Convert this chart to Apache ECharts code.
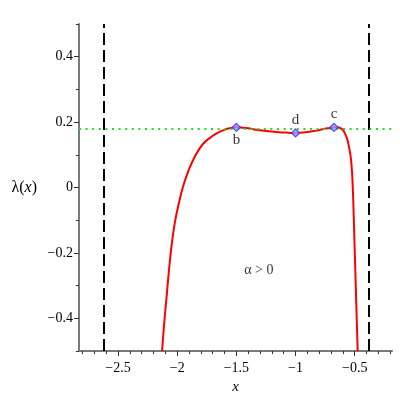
<!DOCTYPE html>
<html><head><meta charset="utf-8">
<script src="https://cdn.jsdelivr.net/npm/echarts@6/dist/echarts.min.js"></script>
<style>html,body{margin:0;padding:0;background:#fff}#c{width:400px;height:400px}</style>
</head><body><div id="c"></div>
<script>
const curveX = [-2.128,-2.111,-2.091,-2.071,-2.048,-2.020,-1.986,-1.950,-1.908,-1.851,-1.781,-1.696,-1.640,-1.590,-1.545,-1.500,-1.420,-1.330,-1.245,-1.160,-1.080,-1.000,-0.920,-0.860,-0.822,-0.760,-0.710,-0.675,-0.645,-0.624,-0.600,-0.582,-0.566,-0.554,-0.544,-0.534,-0.526,-0.520,-0.512,-0.505,-0.498,-0.490,-0.483,-0.475];
const curveY = [-0.500,-0.419,-0.339,-0.258,-0.178,-0.107,-0.047,0.004,0.049,0.095,0.134,0.159,0.171,0.178,0.182,0.184,0.182,0.177,0.173,0.170,0.168,0.167,0.169,0.172,0.174,0.179,0.182,0.184,0.184,0.182,0.176,0.165,0.151,0.134,0.116,0.094,0.064,0.030,-0.045,-0.130,-0.217,-0.315,-0.402,-0.500];
const pointNames = ['b','d','c'];
const pointX = [-1.5,-1.0,-0.675];
const pointY = [0.184,0.167,0.184];
const pointLabelPos = ['bottom','top','top'];
const asymptotes = [-2.618,-0.382];
const levelY = 0.185;
const xMajorTicks = [-2.5,-2,-1.5,-1,-0.5];
const xMinorTicks = [-2.8,-2.7,-2.6,-2.5,-2.4,-2.3,-2.2,-2.1,-2.0,-1.9,-1.8,-1.7,-1.6,-1.5,-1.4,-1.3,-1.2,-1.1,-1.0,-0.9,-0.8,-0.7,-0.6,-0.5,-0.4,-0.3,-0.2];
const yMajorTicks = [-0.4,-0.2,0,0.2,0.4];
const yMinorTicks = [-0.5,-0.3,-0.1,0.1,0.3,0.5];
const noteText = 'α > 0';
const noteX = -1.31;
const noteY = -0.253;

const FONT = 'Liberation Serif';
const fmt = v => (v < 0 ? '\u2212' + String(Math.abs(v)) : String(v));
const AXIS_COLOR = '#7a7a7a';
const TICK_COLOR = '#333';

const chart = echarts.init(document.getElementById('c'));
chart.setOption({
  animation: false,
  backgroundColor: '#fff',
  grid: {left: 79, right: 8, top: 24, bottom: 45, containLabel: false},
  xAxis: [
    {type: 'value', min: -2.83, max: -0.185, position: 'bottom', offset: 0,
     axisLine: {show: true, onZero: false, lineStyle: {color: AXIS_COLOR, width: 2}},
     axisTick: {show: true, customValues: xMinorTicks, length: 3, lineStyle: {color: TICK_COLOR, width: 1}},
     axisLabel: {show: true, customValues: xMajorTicks, formatter: fmt, fontFamily: FONT, fontSize: 14, color: '#000', margin: 10},
     splitLine: {show: false},
     name: 'x', nameLocation: 'middle', nameGap: 24,
     nameTextStyle: {fontFamily: FONT, fontSize: 15, fontStyle: 'italic', color: '#000'}},
    {type: 'value', min: -2.83, max: -0.185, position: 'bottom', offset: 0,
     axisLine: {show: false, onZero: false},
     axisTick: {show: true, customValues: xMajorTicks, length: 5, lineStyle: {color: TICK_COLOR, width: 1}},
     axisLabel: {show: false}, splitLine: {show: false}}
  ],
  yAxis: [
    {type: 'value', min: -0.5, max: 0.5, position: 'left', offset: 0,
     axisLine: {show: true, onZero: false, lineStyle: {color: AXIS_COLOR, width: 2}},
     axisTick: {show: true, customValues: yMinorTicks, length: 3, lineStyle: {color: TICK_COLOR, width: 1}},
     axisLabel: {show: true, customValues: yMajorTicks, formatter: fmt, fontFamily: FONT, fontSize: 14, color: '#000', margin: 6},
     splitLine: {show: false},
     name: '{n|λ(}{i|x}{n|)}', nameLocation: 'middle', nameGap: 42, nameRotate: 0,
     nameTextStyle: {fontFamily: FONT, fontSize: 16, color: '#000',
       rich: {n: {fontFamily: FONT, fontSize: 16, color: '#000'}, i: {fontFamily: FONT, fontSize: 16, fontStyle: 'italic', color: '#000'}}}},
    {type: 'value', min: -0.5, max: 0.5, position: 'left', offset: 0,
     axisLine: {show: false, onZero: false},
     axisTick: {show: true, customValues: yMajorTicks, length: 5, lineStyle: {color: TICK_COLOR, width: 1}},
     axisLabel: {show: false}, splitLine: {show: false}}
  ],
  series: [
    {type: 'line', xAxisIndex: 0, yAxisIndex: 0,
     data: curveX.map((x, i) => [x, curveY[i]]),
     showSymbol: false, smooth: 0.4,
     lineStyle: {color: '#ff0000', width: 2}, z: 3,
     markLine: {silent: true, symbol: ['none', 'none'], label: {show: false}, animation: false,
       data: [
         ...asymptotes.map(a => ({xAxis: a, lineStyle: {color: '#000', width: 2, type: [12, 5]}})),
         {yAxis: levelY, lineStyle: {color: '#22dd22', width: 2, type: [2, 4.6]}}
       ]}},
    {type: 'scatter', xAxisIndex: 0, yAxisIndex: 0,
     data: pointX.map((x, i) => ({name: pointNames[i], value: [x, pointY[i]],
       label: {position: pointLabelPos[i]}})),
     symbol: 'diamond', symbolSize: 8, z: 5,
     itemStyle: {color: '#9a9aff', borderColor: '#2a2aff', borderWidth: 1.2},
     label: {show: true, formatter: '{b}', fontFamily: FONT, fontSize: 15, color: '#000', distance: 1}},
    {type: 'scatter', xAxisIndex: 0, yAxisIndex: 0,
     data: [[noteX, noteY]], symbolSize: 0, silent: true,
     label: {show: true, position: 'inside', formatter: noteText, fontFamily: FONT, fontSize: 14, color: '#000'}}
  ]
});
</script></body></html>
